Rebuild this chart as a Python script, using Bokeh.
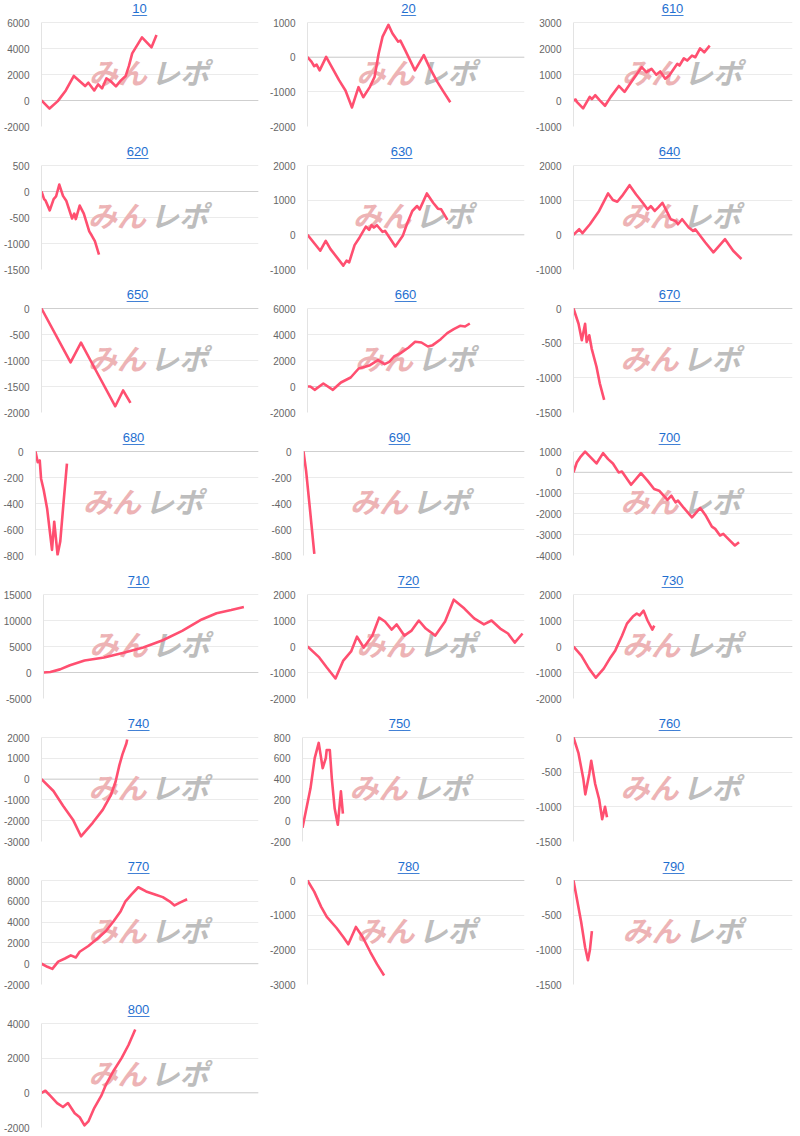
from bokeh.plotting import figure
from bokeh.layouts import column, row
from bokeh.models import FixedTicker, Span, Label, Range1d
from bokeh.embed import file_html
from bokeh.resources import INLINE

# ---------------- data (x = share of the game axis, y = difference) ----------------
x_10 = [0, 3.7, 7.5, 11.2, 14.9, 20.1, 21.6, 24.3, 26.1, 27.9, 29.9, 31.8, 34.3, 36.6, 38.8, 40.3, 41.8, 46.3, 50.7, 53.0]
y_10 = [0, -620, -50, 775, 1890, 1110, 1370, 775, 1240, 930, 1700, 1500, 1090, 1550, 1890, 2660, 3620, 4860, 4090, 5040]
t_10 = [-2000, 0, 2000, 4000, 6000]

x_20 = [0, 1.9, 3.1, 4.2, 5.6, 8.6, 11.6, 14.6, 17.5, 20.5, 23.5, 25.7, 28.7, 30.9, 32.8, 34.6, 37.3, 39.1, 41.8, 42.8, 45.0, 49.5, 53.6, 56.1, 59.9, 62.8, 65.8]
y_20 = [0, -136, -262, -214, -380, 10, -330, -670, -960, -1450, -865, -1155, -865, -570, 107, 592, 932, 690, 447, 476, 204, -380, 58, -280, -720, -1010, -1300]
t_20 = [-2000, -1000, 0, 1000]

x_610 = [0, 1.0, 1.5, 4.4, 7.4, 8.4, 9.9, 11.9, 14.4, 17.0, 20.7, 23.3, 27.4, 31.1, 33.3, 35.6, 37.8, 39.6, 41.9, 43.7, 47.4, 48.4, 50.4, 51.9, 54.1, 55.6, 57.8, 59.7, 62.2]
y_610 = [0, 38, -51, -305, 140, 51, 203, 13, -203, 140, 559, 330, 838, 1283, 1092, 1219, 990, 1117, 838, 965, 1410, 1346, 1625, 1537, 1727, 1663, 2006, 1854, 2108]
t_610 = [-1000, 0, 1000, 2000, 3000]

x_620 = [0, 1.2, 1.9, 3.8, 5.6, 6.7, 8.2, 9.9, 11.4, 14.1, 15.1, 15.8, 17.6, 19.5, 22.0, 23.1, 24.6, 26.5]
y_620 = [0, -146, -177, -363, -146, -96, 134, -84, -177, -519, -425, -531, -270, -425, -767, -842, -953, -1214]
t_620 = [-1500, -1000, -500, 0, 500]

x_630 = [0, 5.9, 8.4, 10.6, 16.5, 18.0, 19.2, 21.7, 24.0, 26.9, 28.4, 29.5, 30.6, 32.0, 34.6, 35.7, 40.5, 43.9, 45.8, 48.3, 50.5, 51.7, 55.0, 57.9, 60.1, 61.6, 64.5]
y_630 = [0, -458, -172, -411, -888, -745, -793, -296, -76, 239, 143, 277, 210, 277, 86, 115, -334, -29, 306, 688, 831, 735, 1194, 926, 755, 735, 430]
t_630 = [-1000, 0, 1000, 2000]

x_640 = [0, 2.6, 4.1, 7.5, 11.7, 15.8, 18.0, 20.0, 22.1, 25.6, 28.6, 31.6, 33.8, 35.3, 37.1, 38.6, 40.6, 42.9, 44.4, 46.6, 47.7, 49.6, 52.6, 54.6, 55.6, 60.2, 63.9, 69.2, 72.9, 76.7]
y_640 = [0, 162, 48, 305, 690, 1195, 1005, 955, 1115, 1433, 1165, 925, 735, 830, 690, 785, 925, 640, 450, 400, 305, 450, 210, 115, 160, -220, -505, -125, -460, -697]
t_640 = [-1000, 0, 1000, 2000]

x_650 = [0, 13.4, 18.2, 23.9, 34.0, 37.6, 41.0]
y_650 = [0, -1038, -658, -1101, -1880, -1576, -1816]
t_650 = [-2000, -1500, -1000, -500, 0]

x_660 = [0, 1.3, 3.3, 7.3, 11.7, 15.4, 19.9, 23.6, 26.6, 28.8, 32.5, 35.5, 37.7, 39.9, 42.9, 46.6, 49.6, 52.5, 55.5, 57.7, 61.4, 64.4, 67.4, 70.3, 72.6, 74.8]
y_660 = [0, 0, -256, 230, -256, 308, 692, 1385, 1513, 1641, 2026, 1718, 1897, 2308, 2564, 3000, 3436, 3385, 3077, 3180, 3641, 4103, 4410, 4667, 4615, 4846]
t_660 = [-2000, 0, 2000, 4000, 6000]

x_670 = [0, 2.3, 3.8, 5.3, 6.0, 7.2, 8.3, 10.5, 12.0, 14.0]
y_670 = [0, -220, -458, -220, -482, -387, -578, -840, -1079, -1318]
t_670 = [-1500, -1000, -500, 0]

x_680 = [0, 1.0, 1.9, 2.5, 3.7, 5.2, 7.4, 8.4, 9.9, 11.1, 12.6, 14.1]
y_680 = [0, -82, -69, -209, -298, -438, -757, -540, -795, -693, -387, -94]
t_680 = [-800, -600, -400, -200, 0]

x_690 = [0, 1.2, 2.7, 4.9]
y_690 = [0, -152, -406, -787]
t_690 = [-800, -600, -400, -200, 0]

x_700 = [0, 1.5, 3.0, 5.3, 10.5, 13.5, 15.8, 18.0, 20.6, 22.1, 26.3, 30.8, 33.8, 36.8, 39.1, 42.9, 44.7, 46.6, 47.7, 50.4, 54.1, 57.9, 60.2, 63.2, 64.7, 66.9, 68.4, 71.1, 73.7, 75.6]
y_700 = [0, 470, 715, 990, 425, 920, 635, 425, -5, 40, -600, -40, -400, -800, -885, -1330, -1125, -1445, -1365, -1715, -2165, -1715, -2050, -2610, -2720, -3040, -2960, -3250, -3520, -3360]
t_700 = [-4000, -3000, -2000, -1000, 0, 1000]

x_710 = [0, 3.2, 7.7, 12.3, 19.1, 28.2, 37.3, 46.4, 55.5, 64.5, 73.6, 80.5, 87.3, 93.2]
y_710 = [0, 100, 600, 1400, 2300, 2900, 3800, 4800, 6200, 8000, 10200, 11400, 12000, 12600]
t_710 = [-5000, 0, 5000, 10000, 15000]

x_720 = [0, 5.4, 8.9, 12.9, 16.5, 20.1, 22.8, 25.9, 29.9, 33.0, 35.7, 38.8, 41.1, 44.6, 47.8, 51.3, 54.5, 58.9, 63.4, 67.4, 72.3, 76.8, 81.3, 84.8, 88.8, 92.4, 95.5, 99.1]
y_720 = [0, -420, -810, -1230, -540, -190, 380, -40, 420, 1110, 960, 650, 850, 420, 600, 1000, 690, 420, 960, 1800, 1460, 1080, 850, 1000, 690, 500, 150, 500]
t_720 = [-2000, -1000, 0, 1000, 2000]

x_730 = [0, 3.6, 7.1, 10.2, 13.8, 16.9, 19.1, 22.2, 24.4, 27.1, 28.9, 30.2, 32.0, 33.8, 36.0, 36.9]
y_730 = [0, -350, -850, -1200, -850, -420, -150, 420, 880, 1150, 1270, 1200, 1380, 1000, 650, 800]
t_730 = [-2000, -1000, 0, 1000, 2000]

x_740 = [0, 5.5, 10.0, 14.5, 18.2, 23.6, 28.2, 31.8, 34.1, 35.9, 37.3, 39.1, 39.5]
y_740 = [0, -570, -1290, -1950, -2750, -2100, -1480, -810, -140, 670, 1190, 1710, 1900]
t_740 = [-3000, -2000, -1000, 0, 1000, 2000]

x_750 = [0, 3.6, 5.5, 7.3, 9.1, 10.5, 10.9, 12.3, 13.2, 14.5, 15.9, 17.3, 18.2]
y_750 = [-68, 311, 602, 748, 505, 602, 680, 680, 408, 117, -39, 282, 68]
t_750 = [-200, 0, 200, 400, 600, 800]

x_760 = [0, 2.3, 4.5, 5.4, 7.2, 8.1, 9.9, 11.7, 13.1, 14.4, 15.3]
y_760 = [0, -230, -600, -820, -525, -335, -670, -890, -1180, -1000, -1150]
t_760 = [-1500, -1000, -500, 0]

x_770 = [0, 2.7, 5.0, 7.7, 10.8, 13.5, 15.8, 17.6, 21.6, 25.7, 29.7, 33.3, 36.5, 38.7, 41.4, 44.6, 48.2, 52.3, 55.9, 59.0, 61.3, 64.0, 67.1]
y_770 = [0, -300, -500, 200, 500, 800, 600, 1150, 1700, 2400, 3150, 4100, 5050, 6000, 6650, 7350, 6950, 6650, 6400, 6000, 5600, 5900, 6200]
t_770 = [-2000, 0, 2000, 4000, 6000, 8000]

x_780 = [0, 3.1, 6.3, 8.9, 13.4, 16.5, 18.8, 22.3, 25.4, 29.0, 32.1, 35.3]
y_780 = [0, -320, -760, -1050, -1370, -1630, -1840, -1340, -1630, -2070, -2420, -2740]
t_780 = [-3000, -2000, -1000, 0]

x_790 = [0, 1.8, 3.5, 5.3, 6.6, 7.5, 8.4]
y_790 = [0, -306, -598, -962, -1150, -1000, -730]
t_790 = [-1500, -1000, -500, 0]

x_800 = [0, 1.8, 4.1, 7.2, 9.9, 12.2, 15.3, 17.6, 19.8, 21.6, 24.3, 27.5, 29.7, 33.3, 36.9, 40.1, 43.2]
y_800 = [0, 120, -180, -590, -820, -590, -1180, -1410, -1880, -1650, -880, -180, 470, 1290, 2000, 2760, 3650]
t_800 = [-2000, 0, 2000, 4000]

titles = ["10", "20", "610", "620", "630", "640", "650", "660", "670", "680", "690",
          "700", "710", "720", "730", "740", "750", "760", "770", "780", "790", "800"]
series = [(x_10, y_10, t_10), (x_20, y_20, t_20), (x_610, y_610, t_610), (x_620, y_620, t_620),
          (x_630, y_630, t_630), (x_640, y_640, t_640), (x_650, y_650, t_650), (x_660, y_660, t_660),
          (x_670, y_670, t_670), (x_680, y_680, t_680), (x_690, y_690, t_690), (x_700, y_700, t_700),
          (x_710, y_710, t_710), (x_720, y_720, t_720), (x_730, y_730, t_730), (x_740, y_740, t_740),
          (x_750, y_750, t_750), (x_760, y_760, t_760), (x_770, y_770, t_770), (x_780, y_780, t_780),
          (x_790, y_790, t_790), (x_800, y_800, t_800)]

# ---------------- layout / style ----------------
lefts = [35, 32, 35, 37, 39, 38, 37, 35, 38, 35, 37, 38, 38, 32, 35, 36, 36, 38, 36, 32, 34, 36]
col_w = [266, 266, 268]
LINE = "#ff4f70"
BLUE = "#1f6fd0"
FONT = "Liberation Sans"
HEAD = 22      # pixels above the top gridline reserved for the title
PLOT_H = 104   # pixels between top and bottom gridline


def panel(i):
    title = titles[i]
    xs, ys, ticks = series[i]
    c = i % 3
    r = i // 3
    last = (r == 7)
    W = col_w[c]
    H = 135 if last else 143
    bottom, right = (9 if last else 17), 8
    left = lefts[i]
    fw = W - left - right
    fh = H - bottom                      # frame includes the title strip
    span = ticks[-1] - ticks[0]
    y_top = ticks[-1] + span * HEAD / PLOT_H
    p = figure(width=W, height=H, output_backend="svg", toolbar_location=None,
               x_range=Range1d(0, 100), y_range=Range1d(ticks[0], y_top),
               x_axis_location=None, min_border_left=left, min_border_right=right,
               min_border_top=0, min_border_bottom=bottom)
    p.title.visible = False
    p.outline_line_color = None
    p.background_fill_color = "white"
    p.border_fill_color = "white"
    p.xgrid.visible = False
    p.ygrid.ticker = FixedTicker(ticks=ticks)
    p.ygrid.grid_line_color = "#ebebeb"
    ax = p.yaxis[0]
    ax.ticker = FixedTicker(ticks=ticks)
    ax.bounds = (ticks[0], ticks[-1])
    ax.major_label_overrides = {t: str(t) for t in ticks}
    ax.major_tick_line_color = None
    ax.minor_tick_line_color = None
    ax.axis_line_color = "#e3e3e3"
    ax.major_label_text_color = "#666666"
    ax.major_label_text_font = FONT
    ax.major_label_text_font_size = "10px"
    ax.major_label_standoff = 6
    p.add_layout(Span(location=0, dimension="width", line_color="#cfcfcf", line_width=1, level="underlay"))
    # watermark logo, centred in the plot area
    wy = fh - 70
    p.add_layout(Label(x=fw / 2 - 6, y=wy, x_units="screen", y_units="screen", text="みん",
                       text_align="right", text_baseline="middle", text_font="Noto Sans CJK JP",
                       text_font_style="bold italic", text_font_size="29px", text_color="#edb3b5",
                       level="underlay"))
    p.add_layout(Label(x=fw / 2 - 2, y=wy, x_units="screen", y_units="screen", text="レポ",
                       text_align="left", text_baseline="middle", text_font="Noto Sans CJK JP",
                       text_font_style="bold italic", text_font_size="29px", text_color="#bdbdbd",
                       level="underlay"))
    p.line(xs, ys, line_color=LINE, line_width=2.6, line_join="round")
    # title with underline, centred on the whole panel
    tx = W / 2 - left
    ty = fh - 8
    p.add_layout(Label(x=tx, y=ty, x_units="screen", y_units="screen", text=title,
                       text_align="center", text_baseline="middle", text_font=FONT,
                       text_font_size="13px", text_color=BLUE))
    p.add_layout(Label(x=tx, y=ty, x_units="screen", y_units="screen", text="_" * len(title),
                       text_align="center", text_baseline="middle", text_font=FONT,
                       text_font_size="13px", text_color=BLUE))
    return p


figs = [panel(i) for i in range(len(titles))]
rows = [row(*figs[k:k + 3]) for k in range(0, len(figs), 3)]
layout = column(*rows)

open("out.html", "w").write(file_html(layout, INLINE))
